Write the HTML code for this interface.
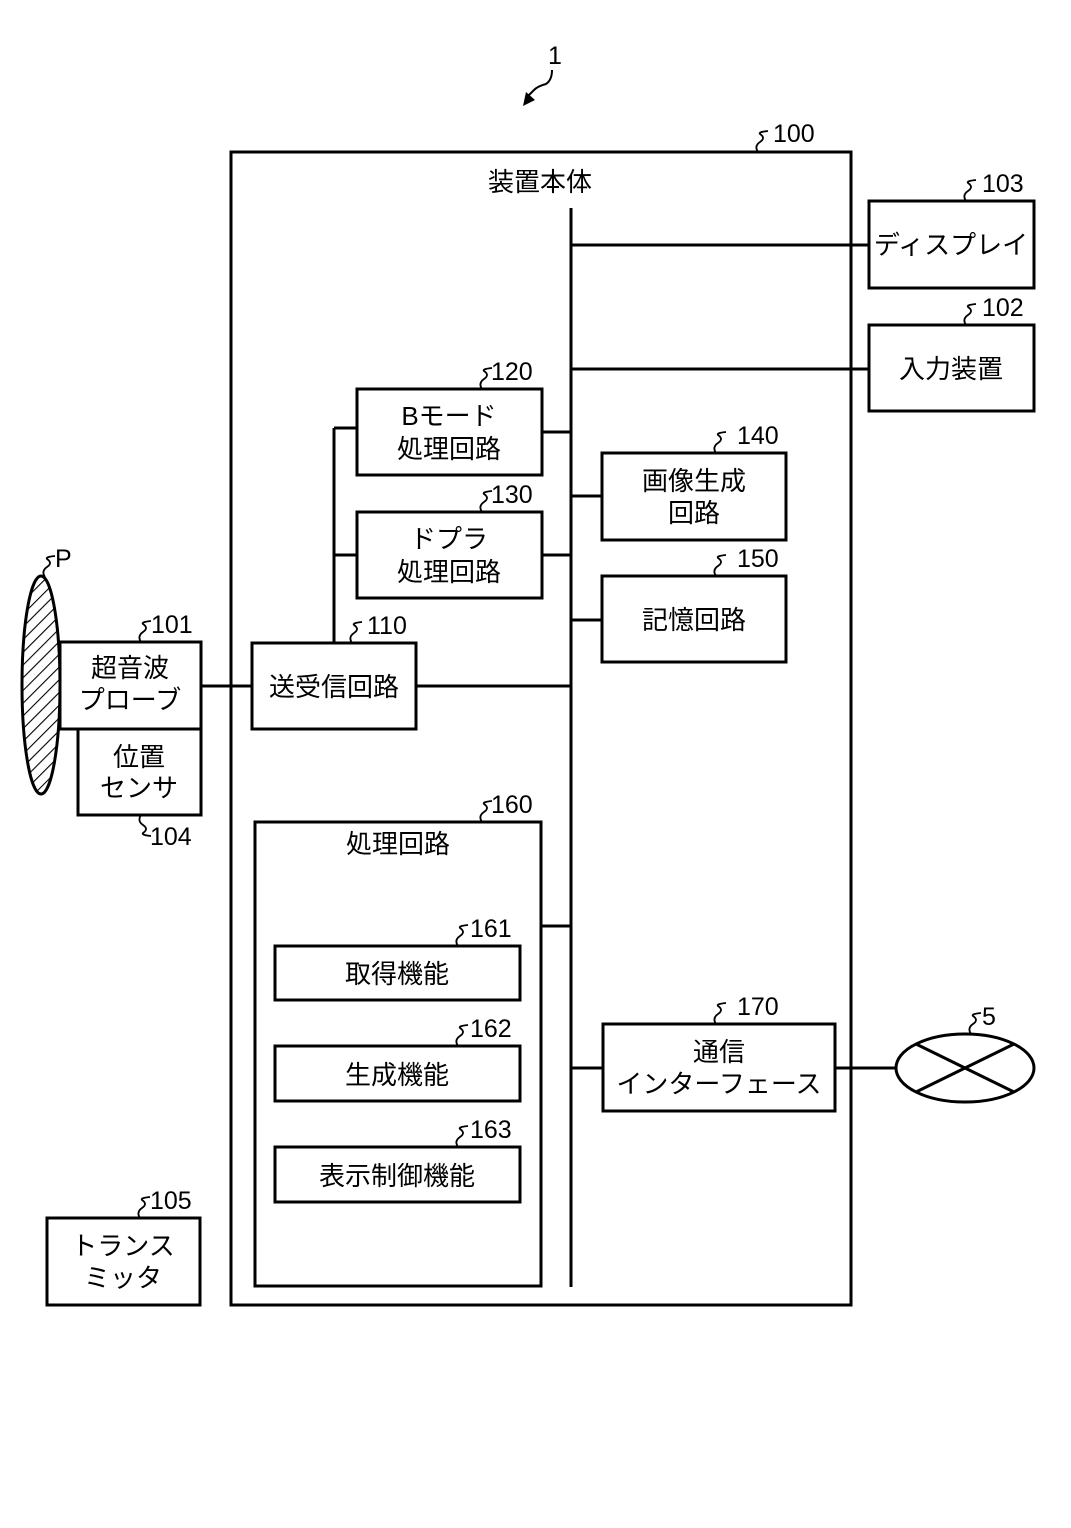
<!DOCTYPE html>
<html><head><meta charset="utf-8"><style>
html,body{margin:0;padding:0;background:#fff}
svg{display:block}
text{font-family:"Liberation Sans","Noto Sans CJK JP",sans-serif;fill:#000}
.t{font-size:26px;text-anchor:middle}
.n{font-size:25px}
</style></head><body>
<svg width="1071" height="1528" viewBox="0 0 1071 1528" xmlns="http://www.w3.org/2000/svg">
<defs>
<pattern id="h" width="9" height="9" patternUnits="userSpaceOnUse" patternTransform="rotate(45)">
<rect width="9" height="9" fill="#fff"/><line x1="0" y1="0" x2="0" y2="9" stroke="#000" stroke-width="2.2"/>
</pattern>
</defs>
<g fill="none" stroke="#000" stroke-width="3">
<!-- main box -->
<rect x="231" y="152" width="620" height="1153"/>
<line x1="571" y1="208" x2="571" y2="1287"/>
<rect x="869" y="201" width="165" height="87"/>
<line x1="571" y1="245" x2="869" y2="245"/>
<rect x="869" y="325" width="165" height="86"/>
<line x1="571" y1="369" x2="869" y2="369"/>
<rect x="357" y="389" width="185" height="86"/>
<line x1="542" y1="432" x2="571" y2="432"/>
<rect x="357" y="512" width="185" height="86"/>
<line x1="542" y1="555" x2="571" y2="555"/>
<line x1="334" y1="428" x2="357" y2="428"/>
<line x1="334" y1="555" x2="357" y2="555"/>
<line x1="334" y1="428" x2="334" y2="643"/>
<rect x="602" y="453" width="184" height="87"/>
<line x1="571" y1="496" x2="602" y2="496"/>
<rect x="602" y="576" width="184" height="86"/>
<line x1="571" y1="620" x2="602" y2="620"/>
<rect x="252" y="643" width="164" height="86"/>
<line x1="416" y1="686" x2="571" y2="686"/>
<line x1="201" y1="686" x2="252" y2="686"/>
<rect x="60" y="642" width="141" height="87"/>
<rect x="78" y="729" width="123" height="86"/>
<rect x="255" y="822" width="286" height="464"/>
<line x1="541" y1="926" x2="571" y2="926"/>
<rect x="275" y="946" width="245" height="54"/>
<rect x="275" y="1046" width="245" height="55"/>
<rect x="275" y="1147" width="245" height="55"/>
<rect x="603" y="1024" width="232" height="87"/>
<line x1="571" y1="1068" x2="603" y2="1068"/>
<line x1="835" y1="1068" x2="896" y2="1068"/>
<ellipse cx="965" cy="1068" rx="69" ry="34"/>
<line x1="916" y1="1044" x2="1014" y2="1092"/>
<line x1="916" y1="1092" x2="1014" y2="1044"/>
<rect x="47" y="1218" width="153" height="87"/>
</g>
<ellipse cx="41" cy="685" rx="19" ry="109" fill="url(#h)" stroke="#000" stroke-width="3"/>
<!-- squiggles -->
<g fill="none" stroke="#000" stroke-width="1.8">
<path d="M758 152 q-4-6 2-10 q6-4 0-8 q-2-2 8-3"/>
<path d="M966 201 q-4-6 2-10 q6-4 0-8 q-2-2 8-3"/>
<path d="M966 325 q-4-6 2-10 q6-4 0-8 q-2-2 8-3"/>
<path d="M482 389 q-4-6 2-10 q6-4 0-8 q-2-2 8-3"/>
<path d="M482 512 q-4-6 2-10 q6-4 0-8 q-2-2 8-3"/>
<path d="M716 453 q-4-6 2-10 q6-4 0-8 q-2-2 8-3"/>
<path d="M716 576 q-4-6 2-10 q6-4 0-8 q-2-2 8-3"/>
<path d="M352 643 q-4-6 2-10 q6-4 0-8 q-2-2 8-3"/>
<path d="M141 642 q-4-6 2-10 q6-4 0-8 q-2-2 8-3"/>
<path d="M141 815 q-4 6 2 10 q6 4 0 8 q-2 2 8 3"/>
<path d="M482 822 q-4-6 2-10 q6-4 0-8 q-2-2 8-3"/>
<path d="M458 946 q-4-6 2-10 q6-4 0-8 q-2-2 8-3"/>
<path d="M458 1046 q-4-6 2-10 q6-4 0-8 q-2-2 8-3"/>
<path d="M458 1147 q-4-6 2-10 q6-4 0-8 q-2-2 8-3"/>
<path d="M716 1024 q-4-6 2-10 q6-4 0-8 q-2-2 8-3"/>
<path d="M971 1034 q-4-6 2-10 q6-4 0-8 q-2-2 8-3"/>
<path d="M140 1218 q-4-6 2-10 q6-4 0-8 q-2-2 8-3"/>
<path d="M45 577 q-4-6 2-10 q6-4 0-8 q-2-2 8-3"/>
<path d="M552 70 q0 10 -6 14 q-8 2 -12 6 l-8 8" stroke-width="2"/>
</g>
<polygon points="523,106 526,92 535,100" fill="#000"/>
<!-- numbers -->
<g class="n">
<text x="548" y="64">1</text>
<text x="773" y="142">100</text>
<text x="982" y="192">103</text>
<text x="982" y="316">102</text>
<text x="491" y="380">120</text>
<text x="491" y="503">130</text>
<text x="737" y="444">140</text>
<text x="737" y="567">150</text>
<text x="367" y="634">110</text>
<text x="151" y="633">101</text>
<text x="150" y="845">104</text>
<text x="491" y="813">160</text>
<text x="470" y="937">161</text>
<text x="470" y="1037">162</text>
<text x="470" y="1138">163</text>
<text x="737" y="1015">170</text>
<text x="982" y="1025">5</text>
<text x="150" y="1209">105</text>
<text x="55" y="567">P</text>
</g>
<g class="t">
<text x="540" y="191">装置本体</text>
<text x="951" y="254">ディスプレイ</text>
<text x="951" y="378">入力装置</text>
<text x="449" y="425">Bモード</text>
<text x="449" y="458">処理回路</text>
<text x="449" y="548">ドプラ</text>
<text x="449" y="581">処理回路</text>
<text x="694" y="490">画像生成</text>
<text x="694" y="522">回路</text>
<text x="694" y="629">記憶回路</text>
<text x="334" y="696">送受信回路</text>
<text x="130" y="677">超音波</text>
<text x="130" y="709">プローブ</text>
<text x="139" y="766">位置</text>
<text x="139" y="797">センサ</text>
<text x="398" y="853">処理回路</text>
<text x="397" y="983">取得機能</text>
<text x="397" y="1084">生成機能</text>
<text x="397" y="1185">表示制御機能</text>
<text x="719" y="1061">通信</text>
<text x="719" y="1093">インターフェース</text>
<text x="123" y="1255">トランス</text>
<text x="123" y="1287">ミッタ</text>
</g>
</svg>
</body></html>
